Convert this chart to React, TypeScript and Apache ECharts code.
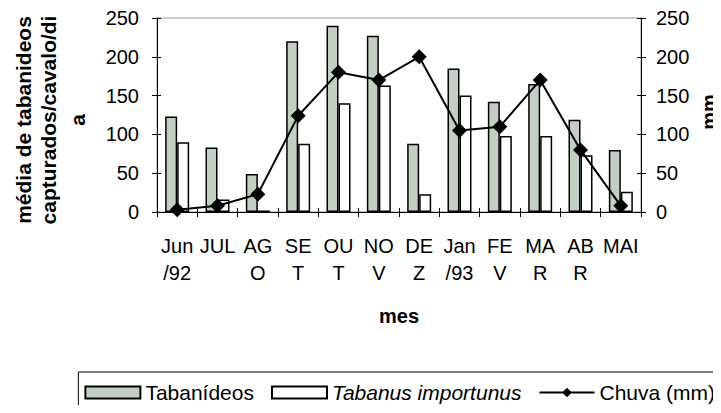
import React, { useEffect, useRef } from "react";
import * as echarts from "echarts";

const categories = ["Jun\n/92", "JUL", "AG\nO", "SE\nT", "OU\nT", "NO\nV", "DE\nZ", "Jan\n/93", "FE\nV", "MA\nR", "AB\nR", "MAI"];
const tabanideos = [123, 83, 49, 220, 240, 227, 88, 185, 142, 165, 119, 80];
const tabanus = [90, 16, 2, 88, 140, 163, 23, 150, 98, 98, 73, 26];
const chuva = [3, 8, 23, 124, 180, 170, 200, 105, 110, 170, 80, 8];
const yTicks = [0, 50, 100, 150, 200, 250];

const FONT = "Liberation Sans, Arial, sans-serif";
const FS = 20;

export default function App() {
  const ref = useRef<HTMLDivElement>(null);
  useEffect(() => {
    if (!ref.current) return;
    const chart = echarts.init(ref.current, null, { renderer: "svg" });
    const axisCommon = {
      type: "value",
      min: yTicks[0],
      max: yTicks[yTicks.length - 1],
      interval: 50,
      axisLine: { show: true, lineStyle: { color: "#000", width: 1 } },
      axisTick: { show: true, length: 5, lineStyle: { color: "#000" } },
      splitLine: { show: false },
      axisLabel: { color: "#000", fontSize: FS, fontFamily: FONT },
    };
    const innerTickAxis = {
      type: "value",
      min: yTicks[0],
      max: yTicks[yTicks.length - 1],
      interval: 50,
      axisLine: { show: false },
      axisTick: { show: true, inside: true, length: 4, lineStyle: { color: "#000" } },
      splitLine: { show: false },
      axisLabel: { show: false },
    };
    const titleStyle = { fontSize: 21, fontWeight: "bold", fontFamily: FONT, fill: "#000", align: "center", verticalAlign: "middle" };
    chart.setOption({
      animation: false,
      textStyle: { fontFamily: FONT },
      grid: {
        left: 157,
        right: 80,
        top: 18,
        bottom: 201,
        show: true,
        borderColor: "#999",
        borderWidth: 1,
        backgroundColor: "transparent",
      },
      xAxis: [
        {
          type: "category",
          data: categories,
          axisLine: { lineStyle: { color: "#000", width: 1 } },
          axisTick: { show: true, length: 5, lineStyle: { color: "#000" } },
          axisLabel: {
            color: "#000",
            fontSize: FS,
            fontFamily: FONT,
            lineHeight: 27,
            margin: 20,
            interval: 0,
          },
          name: "mes",
          nameLocation: "middle",
          nameGap: 94,
          nameTextStyle: { color: "#000", fontSize: FS, fontWeight: "bold", fontFamily: FONT },
        },
        {
          type: "category",
          data: categories,
          position: "bottom",
          axisLine: { show: false },
          axisTick: { show: true, inside: true, length: 4, lineStyle: { color: "#000" } },
          axisLabel: { show: false },
        },
      ],
      yAxis: [
        { ...axisCommon, position: "left", axisLabel: { ...axisCommon.axisLabel, margin: 18 } },
        { ...axisCommon, position: "right", axisLabel: { ...axisCommon.axisLabel, margin: 15 } },
        { ...innerTickAxis, position: "left" },
        { ...innerTickAxis, position: "right" },
      ],
      legend: {
        right: 1,
        top: 372,
        padding: [10, 5, 8, 6],
        borderColor: "#000",
        borderWidth: 1,
        itemGap: 17,
        itemWidth: 55,
        itemHeight: 12,
        textStyle: { color: "#000", fontSize: 21, fontFamily: FONT },
        data: [
          { name: "Tabanídeos", icon: "rect" },
          { name: "Tabanus importunus", icon: "rect", textStyle: { fontStyle: "italic" } },
          { name: "Chuva (mm)" },
        ],
      },
      graphic: [
        { type: "text", x: 23, y: 120, rotation: Math.PI / 2, style: { ...titleStyle, text: "média de tabanideos" } },
        { type: "text", x: 48, y: 120, rotation: Math.PI / 2, style: { ...titleStyle, text: "capturados/cavalo/di" } },
        { type: "text", x: 77, y: 120, rotation: Math.PI / 2, style: { ...titleStyle, text: "a" } },
        { type: "text", x: 709, y: 112, rotation: Math.PI / 2, style: { ...titleStyle, fontSize: 20, text: "mm" } },
      ],
      series: [
        {
          name: "Tabanídeos",
          type: "bar",
          data: tabanideos,
          barWidth: 12,
          barGap: "0%",
          itemStyle: { color: "#c4cec4", borderColor: "#000", borderWidth: 1.5 },
        },
        {
          name: "Tabanus importunus",
          type: "bar",
          data: tabanus,
          barWidth: 12,
          barGap: "0%",
          itemStyle: { color: "#fff", borderColor: "#000", borderWidth: 1.5 },
        },
        {
          name: "Chuva (mm)",
          type: "line",
          yAxisIndex: 1,
          data: chuva,
          symbol: "diamond",
          symbolSize: 15,
          lineStyle: { color: "#000", width: 2 },
          itemStyle: { color: "#000" },
        },
      ],
    });
    return () => chart.dispose();
  }, []);
  return <div ref={ref} style={{ width: 721, height: 413, margin: -8 }} />;
}
